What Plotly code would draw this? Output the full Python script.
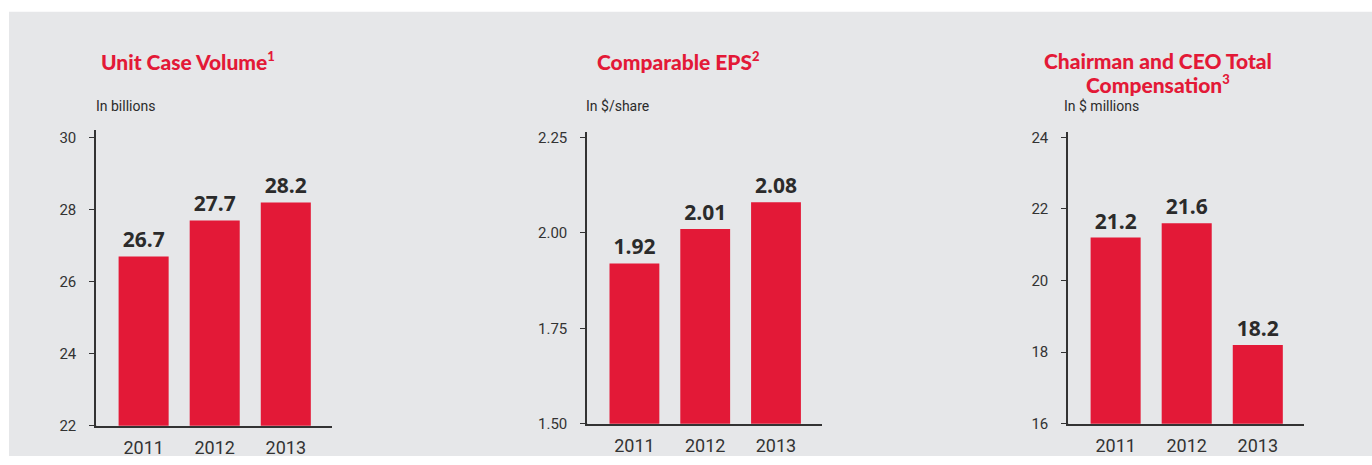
import plotly.graph_objects as go

# ---- data ----
years = ["2011", "2012", "2013"]
unit_case_volume = [26.7, 27.7, 28.2]
comparable_eps = [1.92, 2.01, 2.08]
ceo_compensation = [21.2, 21.6, 18.2]

SUP = "<sup><span style='font-size:13px'>{}</span></sup>"
title_lines = [["Unit Case Volume" + SUP.format("1")],
               ["Comparable EPS" + SUP.format("2")],
               ["Chairman and CEO Total", "Compensation" + SUP.format("3")]]
subtitles = ["In billions", "In $/share", "In $ millions"]
y_ticks = [[22, 24, 26, 28, 30], [1.50, 1.75, 2.00, 2.25], [16, 18, 20, 22, 24]]
y_ticktext = [["22", "24", "26", "28", "30"], ["1.50", "1.75", "2.00", "2.25"],
              ["16", "18", "20", "22", "24"]]
y_ranges = [[22, 30.22], [1.5, 2.265], [16, 24.16]]
value_fmt = ["%{y:.1f}", "%{y:.2f}", "%{y:.1f}"]

W, H = 1372, 465
RED = "#e31937"
BG = "#e6e7e9"
AX = "#333333"
TXT = "#2b2b2b"

series = [unit_case_volume, comparable_eps, ceo_compensation]
# panel geometry (pixels)
x_left = [96, 587, 1068]
x_right = [332, 822, 1304]
y_bottom = [434, 432, 432]
y_top = [130, 132, 132]
title_cx = [188, 678, 1158]
title_line_y = [56, 80]
sub_x = [94, 584, 1062]

fig = go.Figure()

for i in range(3):
    xa = "x" if i == 0 else f"x{i+1}"
    ya = "y" if i == 0 else f"y{i+1}"
    fig.add_trace(go.Bar(
        x=years, y=series[i], xaxis=xa, yaxis=ya,
        marker=dict(color=RED, line=dict(width=0)),
        width=0.704,
        text=series[i], texttemplate=value_fmt[i], textposition="outside",
        outsidetextfont=dict(family="Open Sans, Lato, sans-serif", size=21, color=TXT, weight="bold"),
        cliponaxis=False, showlegend=False, hoverinfo="skip",
    ))
    xkey = "xaxis" if i == 0 else f"xaxis{i+1}"
    ykey = "yaxis" if i == 0 else f"yaxis{i+1}"
    fig.update_layout(**{
        xkey: dict(
            domain=[x_left[i] / W, x_right[i] / W],
            anchor=ya, type="category", range=[-0.67, 2.65],
            showline=True, linecolor=AX, linewidth=1.5,
            showgrid=False, zeroline=False, ticks="",
            tickfont=dict(family="Roboto, sans-serif", size=18, color="#333333"),
            ticklabelstandoff=5,
        ),
        ykey: dict(
            domain=[1 - y_bottom[i] / H, 1 - y_top[i] / H],
            anchor=xa, range=y_ranges[i],
            tickvals=y_ticks[i], ticktext=y_ticktext[i],
            showline=True, linecolor=AX, linewidth=1.5,
            showgrid=False, zeroline=False,
            ticks="outside", ticklen=5, tickcolor=AX, tickwidth=1.2,
            tickfont=dict(family="Roboto, sans-serif", size=15, color="#333333"),
            ticklabelstandoff=10,
        ),
    })
    # small extension of the y axis line below the x axis
    fig.add_shape(type="line", xref=f"{xa} domain", yref=ya,
                  x0=0, x1=0, ysizemode="pixel", yanchor=y_ranges[i][0],
                  y0=0, y1=-8, line=dict(color=AX, width=1.5))
    # title lines
    for j, line in enumerate(title_lines[i]):
        fig.add_annotation(text=line, xref="paper", yref="paper",
                           x=title_cx[i] / W, y=1 - (title_line_y[j] - 12) / H,
                           xanchor="center", yanchor="top",
                           showarrow=False, align="center",
                           font=dict(family="Lato, Open Sans, sans-serif", size=21, color=RED, weight=900))
    # subtitle
    fig.add_annotation(text=subtitles[i], xref="paper", yref="paper",
                       x=sub_x[i] / W, y=1 - 106 / H, xanchor="left", yanchor="middle",
                       showarrow=False,
                       font=dict(family="Roboto, sans-serif", size=14, color=TXT))

# gray panel background (white strip at top and left)
fig.add_shape(type="rect", xref="paper", yref="paper", x0=9 / W, x1=1, y0=0, y1=1 - 9 / H,
              fillcolor=BG, line=dict(width=0), layer="below")

fig.update_layout(
    width=W, height=H,
    margin=dict(l=0, r=0, t=0, b=0),
    paper_bgcolor="white", plot_bgcolor="rgba(0,0,0,0)",
    bargap=0.296,
)

fig.write_html("out.html")
